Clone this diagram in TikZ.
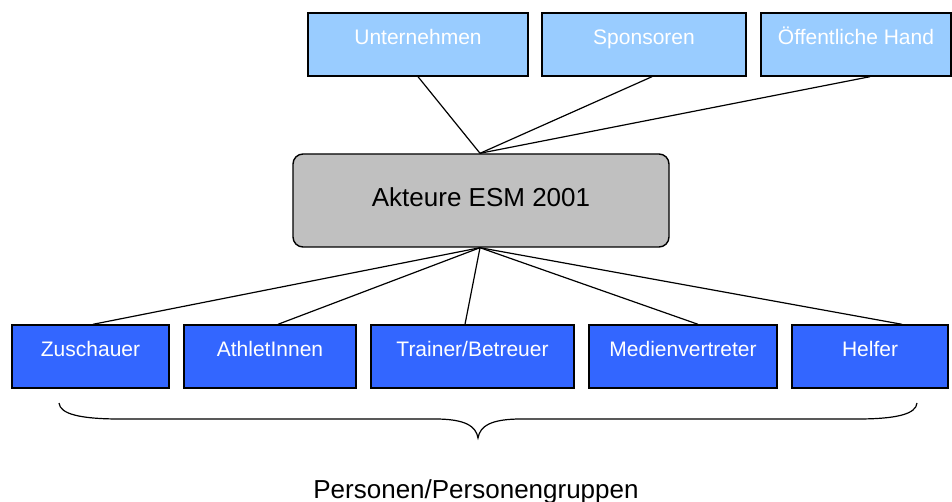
\documentclass[tikz,border=0pt]{standalone}
\usepackage{fontspec}
\setmainfont{Liberation Sans}
\definecolor{paleblue}{HTML}{99CCFF}
\definecolor{strongblue}{HTML}{3366FF}
\definecolor{boxgrey}{HTML}{C0C0C0}
\begin{document}
\begin{tikzpicture}[x=1pt,y=-1pt,
  smallfont/.style={font=\fontsize{21}{25}\selectfont},
  bigfont/.style={font=\fontsize{26}{31}\selectfont},
  boxbase/.style={draw=black, line width=1.4pt, rectangle, inner sep=0pt,
    minimum height=63pt, text height=8pt, text depth=8pt, text=white, smallfont},
  funder/.style={boxbase, fill=paleblue},
  person/.style={boxbase, fill=strongblue},
  hub/.style={draw=black, line width=1.4pt, rectangle, rounded corners=10pt,
    fill=boxgrey, minimum width=376pt, minimum height=93pt, inner sep=0pt,
    text height=20pt, text depth=7pt, bigfont},
  link/.style={draw=black, line width=1.2pt}]
\useasboundingbox (0,0) rectangle (952,502);

% central node
\node[hub] (ak) at (481,200.5) {Akteure ESM 2001};

% funding side
\node[funder, minimum width=220pt] (un) at (418,44.5) {Unternehmen};
\node[funder, minimum width=204pt] (sp) at (644,44.5) {Sponsoren};
\node[funder, minimum width=190pt] (oh) at (856,44.5) {Öffentliche Hand};

% groups of people
\node[person, minimum width=157pt] (zu) at (90.5,356.5) {Zuschauer};
\node[person, minimum width=172pt] (at) at (270,356.5) {AthletInnen};
\node[person, minimum width=203pt] (tr) at (472.5,356.5) {Trainer/Betreuer};
\node[person, minimum width=188pt] (me) at (683,356.5) {Medienvertreter};
\node[person, minimum width=156pt] (he) at (870,356.5) {Helfer};

% connectors into the hub
\draw[link] (un.south) -- ([xshift=-1pt]ak.north);
\draw[link] ([xshift=8pt]sp.south) -- ([xshift=-1pt]ak.north);
\draw[link] ([xshift=14pt]oh.south) -- ([xshift=-1pt]ak.north);

% connectors out of the hub
\draw[link] ([xshift=-1pt]ak.south) -- ([xshift=2.5pt]zu.north);
\draw[link] ([xshift=-1pt]ak.south) -- ([xshift=8pt]at.north);
\draw[link] ([xshift=-1pt]ak.south) -- ([xshift=-7.5pt]tr.north);
\draw[link] ([xshift=-1pt]ak.south) -- ([xshift=15pt]me.north);
\draw[link] ([xshift=-1pt]ak.south) -- ([xshift=32pt]he.north);

% brace under the groups
\draw[line width=1.2pt]
  (59,403) .. controls (60,414) and (80,419) .. (120,419) -- (435,419)
  .. controls (465,419) and (476,426) .. (478,438)
  .. controls (480,426) and (491,419) .. (521,419) -- (857,419)
  .. controls (897,419) and (916,414) .. (917,403);

\node[bigfont, anchor=base] (grp) at (476,498) {Personen/Personengruppen};
\end{tikzpicture}
\end{document}
